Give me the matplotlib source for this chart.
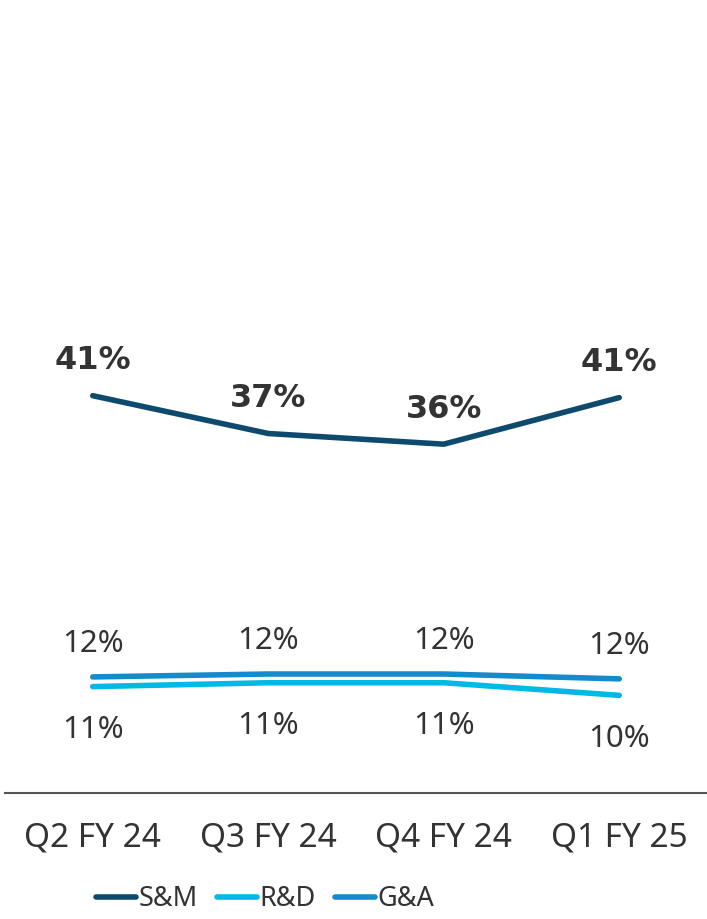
import matplotlib
matplotlib.use("Agg")
import matplotlib.pyplot as plt

categories = ["Q2 FY 24", "Q3 FY 24", "Q4 FY 24", "Q1 FY 25"]
sm = [41.0, 37.1, 36.0, 40.8]
rd = [11.0, 11.4, 11.4, 10.1]
ga = [12.0, 12.3, 12.3, 11.8]
sm_labels = ["41%", "37%", "36%", "41%"]
rd_labels = ["11%", "11%", "11%", "10%"]
ga_labels = ["12%", "12%", "12%", "12%"]

c_sm = "#0D4A6D"
c_rd = "#00B9E6"
c_ga = "#168BCB"
txt = "#333333"

fig = plt.figure(figsize=(7.07, 9.19), dpi=100)
ax = fig.add_axes([5/707, 1 - 793.3/919, 702/707, 793.3/919])
x = list(range(len(categories)))

lw = 4.0
l1, = ax.plot(x, sm, color=c_sm, lw=lw, solid_capstyle="round", solid_joinstyle="round", label="S&M")
l2, = ax.plot(x, rd, color=c_rd, lw=lw, solid_capstyle="round", solid_joinstyle="round", label="R&D")
l3, = ax.plot(x, ga, color=c_ga, lw=lw, solid_capstyle="round", solid_joinstyle="round", label="G&A")

for xi, v, s in zip(x, sm, sm_labels):
    ax.annotate(s, (xi, v), xytext=(0, 25), textcoords="offset points", ha="center", va="center",
                fontsize=23, fontweight="bold", color=txt, family="DejaVu Sans")
for xi, v, s in zip(x, ga, ga_labels):
    ax.annotate(s, (xi, v), xytext=(0, 23.5), textcoords="offset points", ha="center", va="center",
                fontsize=22.5, color=txt, family="Noto Sans")
for xi, v, s in zip(x, rd, rd_labels):
    ax.annotate(s, (xi, v), xytext=(0, -31.5), textcoords="offset points", ha="center", va="center",
                fontsize=22.5, color=txt, family="Noto Sans")

ax.set_xlim(-0.5, 3.5)
ax.set_ylim(0, 81.8)
ax.set_xticks(x)
ax.set_xticklabels(categories, fontsize=24, color=txt, family="Noto Sans")
ax.tick_params(axis="x", length=0, pad=20)
ax.set_yticks([])
for sp in ["left", "right", "top"]:
    ax.spines[sp].set_visible(False)
ax.spines["bottom"].set_color("#555555")
ax.spines["bottom"].set_linewidth(1.5)

leg = fig.legend(handles=[l1, l2, l3], loc="center", bbox_to_anchor=(265/707, 1 - 899/919),
                 ncol=3, frameon=False, prop={"family": "Noto Sans", "size": 19.5},
                 handlelength=1.5, handletextpad=0.08, columnspacing=0.7, borderaxespad=0, borderpad=0)
for t in leg.get_texts():
    t.set_color(txt)

fig.savefig("out.png", dpi=100)
